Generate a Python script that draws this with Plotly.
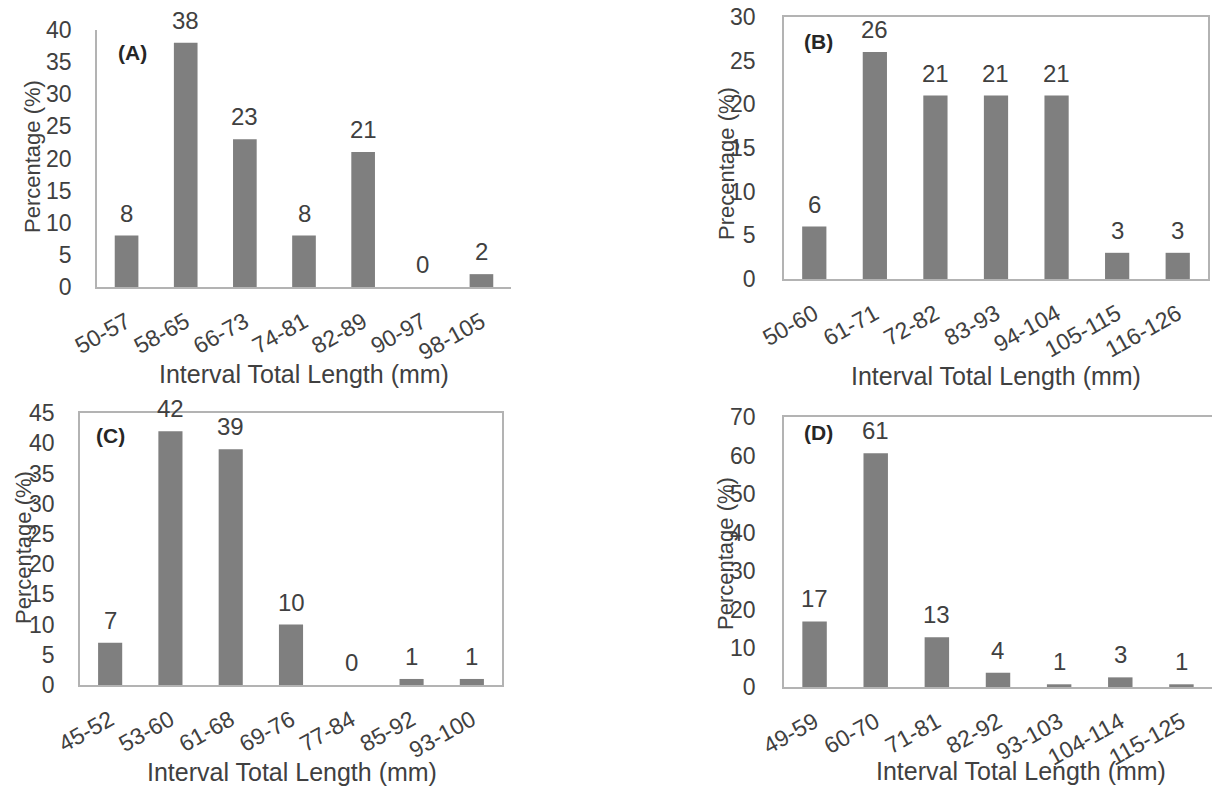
import plotly.graph_objects as go

# ---------------- data ----------------
cats_a = ["50-57", "58-65", "66-73", "74-81", "82-89", "90-97", "98-105"]
vals_a = [8, 38, 23, 8, 21, 0, 2]
labels_a = ["8", "38", "23", "8", "21", "0", "2"]

cats_b = ["50-60", "61-71", "72-82", "83-93", "94-104", "105-115", "116-126"]
vals_b = [6, 26, 21, 21, 21, 3, 3]
labels_b = ["6", "26", "21", "21", "21", "3", "3"]

cats_c = ["45-52", "53-60", "61-68", "69-76", "77-84", "85-92", "93-100"]
vals_c = [7, 42, 39, 10, 0, 1, 1]
labels_c = ["7", "42", "39", "10", "0", "1", "1"]

cats_d = ["49-59", "60-70", "71-81", "82-92", "93-103", "104-114", "115-125"]
vals_d = [17, 60.6, 12.9, 3.7, 0.7, 2.5, 0.7]
labels_d = ["17", "61", "13", "4", "1", "3", "1"]

panel_names = ["(A)", "(B)", "(C)", "(D)"]
y_titles = ["Percentage (%)", "Precentage (%)", "Percentage (%)", "Percentage (%)"]
x_title = "Interval Total Length (mm)"
y_ranges = [[0, 40], [0, 30], [0, 45], [0, 70]]
y_dticks = [5, 5, 5, 10]

# ---------------- layout helpers ----------------
W, H = 1212, 787
def px(x):
    return x / W
def py(y):
    return 1 - y / H

FONT = "Liberation Sans, Arial, sans-serif"
TXT = "#404040"
BAR = "#7f7f7f"
LINE = "#b3b3b3"

# plot areas in pixels: (left, right, top, bottom)
areas = [(97, 511, 30, 287), (784, 1208, 17, 279), (80, 502, 413, 685), (784, 1212, 417, 687)]
mirror_x = [False, True, True, True]
mirror_y = [False, True, True, False]
ytitle_pos = [(33, 157), (726, 164), (23, 548), (725, 554)]
xtitle_pos = [(304, 374), (996, 376), (292, 772), (1021, 771)]
panel_pos = [(132, 52), (818, 41), (110, 435), (818, 432)]

datasets = [(cats_a, vals_a, labels_a), (cats_b, vals_b, labels_b),
            (cats_c, vals_c, labels_c), (cats_d, vals_d, labels_d)]

fig = go.Figure()
annotations = []
layout = {}
for i, (cats, vals, labels) in enumerate(datasets):
    n = i + 1
    xa = "x" if n == 1 else f"x{n}"
    ya = "y" if n == 1 else f"y{n}"
    fig.add_trace(go.Bar(x=cats, y=vals, marker=dict(color=BAR, line=dict(width=0)),
                         xaxis=xa, yaxis=ya, showlegend=False, hoverinfo="x+y"))
    l, r, t, b = areas[i]
    layout[f"xaxis{'' if n == 1 else n}"] = dict(
        domain=[px(l), px(r)], anchor=ya, type="category", automargin=False,
        range=[-0.5, len(cats) - 0.5],
        showline=True, linecolor=LINE, linewidth=1.5, mirror=mirror_x[i],
        showgrid=False, zeroline=False, ticks="", tickangle=-29,
        ticklabelstandoff=11,
        tickfont=dict(family=FONT, size=23, color=TXT),
    )
    layout[f"yaxis{'' if n == 1 else n}"] = dict(
        domain=[py(b), py(t)], anchor=xa, range=y_ranges[i], dtick=y_dticks[i],
        automargin=False,
        showline=True, linecolor=LINE, linewidth=1.5, mirror=mirror_y[i],
        showgrid=False, zeroline=False, ticks="",
        ticklabelstandoff=19 if i in (0, 2) else 22,
        tickfont=dict(family=FONT, size=23, color=TXT),
    )
    # data labels
    for c, v, lab in zip(cats, vals, labels):
        annotations.append(dict(x=c, y=v, xref=xa, yref=ya, text=lab, showarrow=False,
                                yanchor="bottom", yshift=7,
                                font=dict(family=FONT, size=24, color=TXT)))
    # axis titles
    xt = xtitle_pos[i]
    annotations.append(dict(x=px(xt[0]), y=py(xt[1]), xref="paper", yref="paper",
                            text=x_title, showarrow=False, xanchor="center", yanchor="middle",
                            font=dict(family=FONT, size=25, color=TXT)))
    yt = ytitle_pos[i]
    annotations.append(dict(x=px(yt[0]), y=py(yt[1]), xref="paper", yref="paper",
                            text=y_titles[i], showarrow=False, textangle=-90,
                            xanchor="center", yanchor="middle",
                            font=dict(family=FONT, size=22, color=TXT)))
    pp = panel_pos[i]
    annotations.append(dict(x=px(pp[0]), y=py(pp[1]), xref="paper", yref="paper",
                            text=f"<b>{panel_names[i]}</b>", showarrow=False,
                            xanchor="center", yanchor="middle",
                            font=dict(family=FONT, size=21, color="#262626")))

fig.update_layout(
    width=W, height=H,
    margin=dict(l=0, r=0, t=0, b=0),
    paper_bgcolor="white", plot_bgcolor="white",
    bargap=0.6,
    annotations=annotations,
    **layout,
)

fig.write_html("out.html",
               config={"displayModeBar": False},
               post_script="document.body.style.margin='0';document.body.style.overflow='hidden';")
